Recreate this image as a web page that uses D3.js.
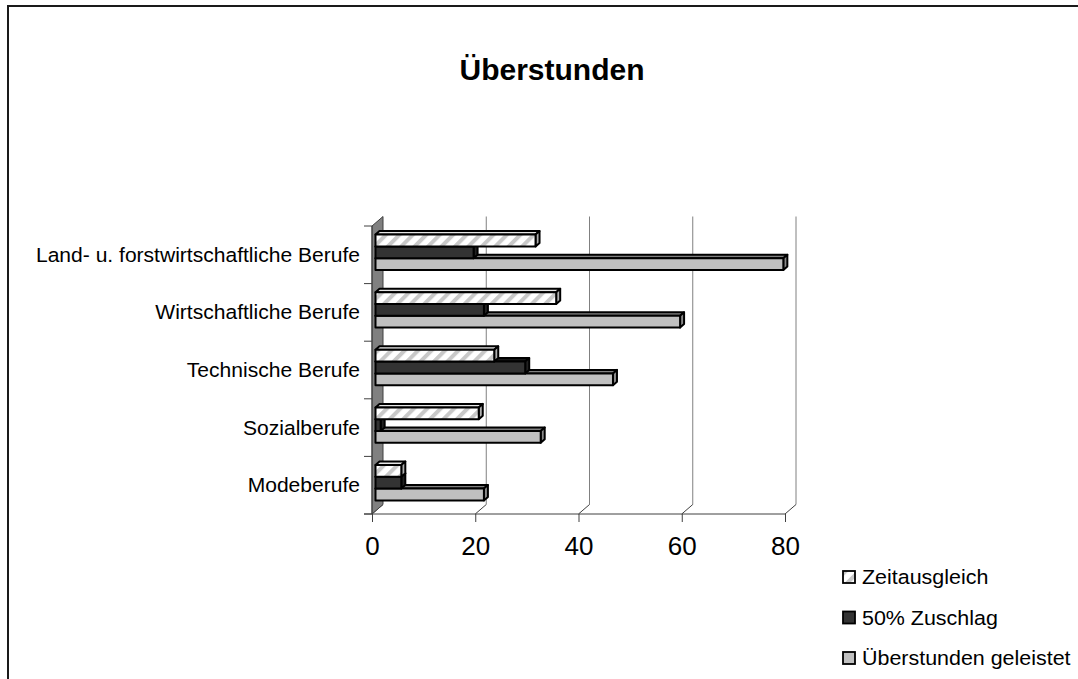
<!DOCTYPE html>
<html>
<head>
<meta charset="utf-8">
<script src="https://cdn.jsdelivr.net/npm/d3@7"></script>
<style>
  body { margin: 0; background: #fff; }
  svg { display: block; font-family: "Liberation Sans", Arial, sans-serif; }
</style>
</head>
<body>
<div id="chart"></div>
<script>
// data
const categories = ['Land- u. forstwirtschaftliche Berufe', 'Wirtschaftliche Berufe', 'Technische Berufe', 'Sozialberufe', 'Modeberufe'];
const seriesNames = ['Zeitausgleich', '50% Zuschlag', 'Überstunden geleistet'];
const zeitausgleich = [31, 35, 23, 20, 5];
const zuschlag = [19, 21, 29, 1, 5];
const geleistet = [79, 59, 46, 32, 21];
const xTicks = [0, 20, 40, 60, 80];

const width = 1078, height = 679;
const wall = { dx: 11, dy: -9.5 };   // depth of the 3d walls
const barOff = { dx: 3.5, dy: -2.5 }; // where the bar front sits inside the depth
const barDepth = { dx: 4, dy: -3.5 };

const series = [
  { name: seriesNames[0], values: zeitausgleich, fill: 'url(#hatch)', top: '#e6e6e6', side: '#b0b0b0' },
  { name: seriesNames[1], values: zuschlag, fill: '#333333', top: '#1a1a1a', side: '#222222' },
  { name: seriesNames[2], values: geleistet, fill: '#c0c0c0', top: '#808080', side: '#8a8a8a' }
];

const svg = d3.select('#chart').append('svg')
  .attr('width', width)
  .attr('height', height);

const defs = svg.append('defs');
const hatch = defs.append('pattern')
  .attr('id', 'hatch')
  .attr('patternUnits', 'userSpaceOnUse')
  .attr('width', 9.5)
  .attr('height', 9.5)
  .attr('patternTransform', 'rotate(45)');
hatch.append('rect').attr('width', 9.5).attr('height', 9.5).attr('fill', '#fff');
hatch.append('rect').attr('width', 4).attr('height', 9.5).attr('fill', '#c8c8c8');

// outer frame (runs off the right and bottom edge)
svg.append('rect')
  .attr('x', 8).attr('y', 6)
  .attr('width', 1200).attr('height', 800)
  .attr('fill', 'none')
  .attr('stroke', '#1a1a1a')
  .attr('stroke-width', 2);

// title
svg.append('text')
  .attr('x', 552)
  .attr('y', 80)
  .attr('text-anchor', 'middle')
  .attr('font-weight', 'bold')
  .attr('font-size', 30)
  .text('Überstunden');

// scales (front plane)
const x = d3.scaleLinear().domain([0, 80]).range([372, 785]);
const y = d3.scaleBand().domain(categories).range([226, 514]).padding(0);
const [y0, y1] = y.range();

// back wall gridlines
svg.append('g')
  .selectAll('line')
  .data(xTicks.slice(1))
  .join('line')
  .attr('x1', d => x(d) + wall.dx)
  .attr('x2', d => x(d) + wall.dx)
  .attr('y1', y0 + wall.dy)
  .attr('y2', y1 + wall.dy)
  .attr('stroke', '#808080')
  .attr('stroke-width', 1);

// floor diagonals
svg.append('g')
  .selectAll('line')
  .data(xTicks)
  .join('line')
  .attr('x1', d => x(d))
  .attr('y1', y1)
  .attr('x2', d => x(d) + wall.dx)
  .attr('y2', y1 + wall.dy)
  .attr('stroke', '#404040')
  .attr('stroke-width', 1);

// left side wall
svg.append('polygon')
  .attr('points', [
    [x(0), y0], [x(0) + wall.dx, y0 + wall.dy],
    [x(0) + wall.dx, y1 + wall.dy], [x(0), y1]
  ].join(' '))
  .attr('fill', '#808080')
  .attr('stroke', '#404040')
  .attr('stroke-width', 1);

// bars
const bh = y.bandwidth() * 0.205;
const barsG = svg.append('g');
categories.forEach((cat, ci) => {
  const groupTop = y(cat) + y.bandwidth() / 2 - 1.5 * bh;
  // bottom series first so the upper bar covers its top face
  for (let s = series.length - 1; s >= 0; s--) {
    const ser = series[s];
    const v = ser.values[ci];
    const xa = x(0) + barOff.dx;
    const xb = x(v) + barOff.dx;
    const yt = groupTop + s * bh + barOff.dy;
    const yb = yt + bh;
    const g = barsG.append('g')
      .attr('stroke', '#000')
      .attr('stroke-width', 2)
      .attr('stroke-linejoin', 'round');
    g.append('polygon')
      .attr('points', [[xa, yt], [xa + barDepth.dx, yt + barDepth.dy], [xb + barDepth.dx, yt + barDepth.dy], [xb, yt]].join(' '))
      .attr('fill', ser.top);
    g.append('polygon')
      .attr('points', [[xb, yt], [xb + barDepth.dx, yt + barDepth.dy], [xb + barDepth.dx, yb + barDepth.dy], [xb, yb]].join(' '))
      .attr('fill', ser.side);
    g.append('rect')
      .attr('x', xa)
      .attr('y', yt)
      .attr('width', Math.max(xb - xa, 0.5))
      .attr('height', bh)
      .attr('fill', ser.fill);
  }
});

// value axis (front)
const xAxis = svg.append('g').attr('transform', `translate(0,${y1})`)
  .call(d3.axisBottom(x).tickValues(xTicks).tickSize(8).tickSizeOuter(0).tickFormat(d3.format('d')));
xAxis.select('.domain').attr('d', `M${x(0) - 8},0H${x(80)}`).attr('stroke', '#404040');
xAxis.selectAll('.tick line').attr('stroke', '#404040');
xAxis.selectAll('.tick text')
  .attr('y', 41)
  .attr('dy', 0)
  .attr('font-size', 26)
  .attr('font-family', '"Liberation Sans", Arial, sans-serif')
  .attr('fill', '#000');

// category axis (front left edge)
const catEdges = [y0].concat(categories.map(c => y(c) + y.bandwidth()));
svg.append('line')
  .attr('x1', x(0)).attr('x2', x(0))
  .attr('y1', y0).attr('y2', y1)
  .attr('stroke', '#404040');
svg.append('g')
  .selectAll('line')
  .data(catEdges)
  .join('line')
  .attr('x1', x(0) - 8).attr('x2', x(0))
  .attr('y1', d => d).attr('y2', d => d)
  .attr('stroke', '#404040');
svg.append('g')
  .selectAll('text')
  .data(categories)
  .join('text')
  .attr('transform', d => `translate(360,${y(d) + y.bandwidth() / 2 + 7}) scale(1.08,1)`)
  .attr('text-anchor', 'end')
  .attr('font-size', 19.5)
  .text(d => d);

// legend
const legend = svg.append('g')
  .selectAll('g')
  .data(series)
  .join('g')
  .attr('transform', (d, i) => `translate(843,${571 + i * 40.5})`);
legend.append('rect')
  .attr('width', 12).attr('height', 12)
  .attr('fill', d => d.fill)
  .attr('stroke', '#000')
  .attr('stroke-width', 1.8);
legend.append('text')
  .attr('transform', 'translate(19,13) scale(1.1,1)')
  .attr('font-size', 19.5)
  .text(d => d.name);
</script>
</body>
</html>
